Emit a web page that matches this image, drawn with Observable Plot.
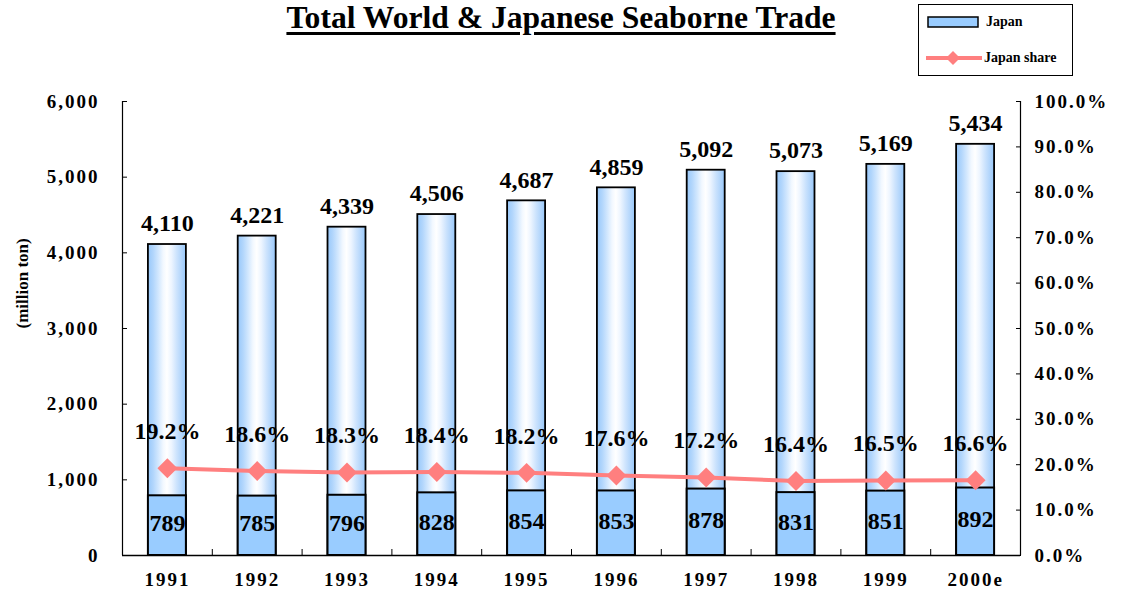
<!DOCTYPE html>
<html><head><meta charset="utf-8">
<script src="https://cdn.jsdelivr.net/npm/d3@7"></script>
<script src="https://cdn.jsdelivr.net/npm/@observablehq/plot@0.6"></script>
<style>
body{margin:0;background:#fff;font-family:"Liberation Serif","Times New Roman",serif;font-weight:bold;color:#000;}
#wrap{position:relative;width:1126px;height:608px;}
#title{position:absolute;left:0;width:1122px;top:0px;text-align:center;font-size:31.6px;text-decoration:underline;text-decoration-thickness:3px;text-underline-offset:4px;z-index:2;}
#legend{position:absolute;left:918px;top:4px;width:155px;height:72px;border:1.5px solid #000;box-sizing:border-box;font-size:14px;background:#fff;z-index:2;}
#legend .row{position:absolute;left:6px;display:flex;align-items:center;}
#legend svg{display:block;}
#chart{position:absolute;left:0;top:0;}
#chart g[aria-label$="tick label"]{letter-spacing:2px;}
#chart g[aria-label="data label"]{letter-spacing:0.5px;}
</style></head>
<body>
<div id="wrap">
  <div id="title">Total World &amp; Japanese Seaborne Trade</div>
  <div id="legend">
    <div class="row" style="top:9px"><svg width="58" height="14"><rect x="3" y="2" width="50" height="10" fill="#99CCFF" stroke="#000" stroke-width="1.5"/></svg><span style="margin-left:3px">Japan</span></div>
    <div class="row" style="top:45px"><svg width="58" height="16"><line x1="1" x2="57" y1="8" y2="8" stroke="#FF7F7F" stroke-width="4"/><path d="M28,1L35,8L28,15L21,8Z" fill="#FF7F7F"/></svg><span style="margin-left:1px">Japan share</span></div>
  </div>
  <div id="chart"></div>
</div>
<script>
const years = ["1991","1992","1993","1994","1995","1996","1997","1998","1999","2000e"];
const world = [4110,4221,4339,4506,4687,4859,5092,5073,5169,5434];
const japan = [789,785,796,828,854,853,878,831,851,892];
const share = [19.2,18.6,18.3,18.4,18.2,17.6,17.2,16.4,16.5,16.6];
const leftTicks = [0,1000,2000,3000,4000,5000,6000];
const rightTicks = [0,10,20,30,40,50,60,70,80,90,100];

const yMax = 6000, shareMax = 100;
const shareToY = v => v * yMax / shareMax;
const data = years.map((y, i) => ({year: y, world: world[i], japan: japan[i], share: share[i]}));

const W = 1126, H = 608, mL = 122, mR = 106, mT = 101, mB = 53;
const step = (W - mL - mR) / years.length;
const fmt = d3.format(",");
const labelStyle = {fontSize: 24, ariaLabel: "data label"};

const plot = Plot.plot({
  width: W, height: H,
  marginLeft: mL, marginRight: mR, marginTop: mT, marginBottom: mB,
  style: {fontFamily: "'Liberation Serif','Times New Roman',serif", fontWeight: "bold", fontSize: "19px", color: "#000", background: "transparent"},
  x: {domain: years, paddingInner: 0.577, paddingOuter: 0.2885, round: false},
  y: {domain: [0, yMax]},
  marks: [
    Plot.barY(data, {x: "year", y: "world", fill: "url(#barGrad)", stroke: "#000", strokeWidth: 1.8}),
    Plot.barY(data, {x: "year", y: "japan", fill: "#99CCFF", stroke: "#000", strokeWidth: 2}),
    Plot.ruleY([0], {stroke: "#000", strokeWidth: 1.5}),
    Plot.ruleX([years[0]], {dx: -step / 2, y1: 0, y2: yMax, stroke: "#000", strokeWidth: 1.2}),
    Plot.ruleX([years[years.length - 1]], {dx: step / 2, y1: 0, y2: yMax, stroke: "#000", strokeWidth: 1.2}),
    Plot.axisY(leftTicks, {anchor: "left", tickSize: -5, tickPadding: 28, tickFormat: d => fmt(d), label: null}),
    Plot.axisY(rightTicks.map(shareToY), {anchor: "right", tickSize: -5, tickPadding: 19, tickFormat: d => (d * shareMax / yMax).toFixed(1) + "%", label: null}),
    Plot.axisX({tickSize: 0, tickPadding: 17, label: null}),
    Plot.axisX(years.slice(1), {tickSize: -6, tickPadding: 0, dx: -step / 2, tickFormat: () => "", label: null}),
    Plot.text(["(million ton)"], {frameAnchor: "left", rotate: -90, dx: -100, text: d => d, fontSize: 17}),
    Plot.line(data, {x: "year", y: d => shareToY(d.share), stroke: "#FF7F7F", strokeWidth: 4}),
    Plot.dot(data, {x: "year", y: d => shareToY(d.share), symbol: "diamond2", r: 9, fill: "#FF7F7F", stroke: "none"}),
    Plot.text(data, {x: "year", y: "world", text: d => fmt(d.world), dy: -21, lineAnchor: "middle", ...labelStyle}),
    Plot.text(data, {x: "year", y: d => d.japan / 2, text: d => fmt(d.japan), dy: -2, lineAnchor: "middle", ...labelStyle}),
    Plot.text(data, {x: "year", y: d => shareToY(d.share), text: d => d.share.toFixed(1) + "%", dy: -37, lineAnchor: "middle", ...labelStyle})
  ]
});

const svg = d3.select(plot);
svg.insert("defs", ":first-child").html(`
<linearGradient id="barGrad" x1="0" x2="1" y1="0" y2="0">
  <stop offset="0" stop-color="#98c8fa"/>
  <stop offset="0.14" stop-color="#b2d6fc"/>
  <stop offset="0.28" stop-color="#d3e8fe"/>
  <stop offset="0.4" stop-color="#f2f8ff"/>
  <stop offset="0.5" stop-color="#ffffff"/>
  <stop offset="0.62" stop-color="#edf5ff"/>
  <stop offset="0.76" stop-color="#cce3fd"/>
  <stop offset="0.9" stop-color="#aed3fb"/>
  <stop offset="1" stop-color="#98c8fa"/>
</linearGradient>`);
document.getElementById("chart").appendChild(plot);
</script>
</body></html>
